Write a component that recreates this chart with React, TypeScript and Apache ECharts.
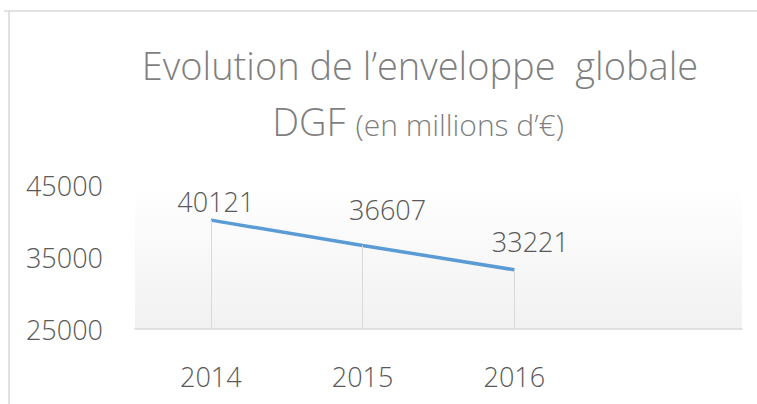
import React, { useEffect, useRef } from "react";
import * as echarts from "echarts";

const categories = ["2014", "2015", "2016", ""];
const values = [40121, 36607, 33221];
const yTickLabels = [25000, 35000, 45000];
const yMin = 25000;
const yMax = 45000;
const titleLine1 = "Evolution de l\u2019enveloppe  globale";
const titleDGF = "DGF";
const titleUnit = "(en millions d\u2019\u20ac)";

// label placement tweaks (styling only, in pixels)
const labelOffsets = [
  [5, 1],
  [25, -16],
  [16, -8],
];

const FONT = "'Open Sans', 'Noto Sans', sans-serif";

export default function App() {
  const ref = useRef<HTMLDivElement>(null);
  useEffect(() => {
    if (!ref.current) return;
    const chart = echarts.init(ref.current, null, { renderer: "svg" });
    chart.setOption({
      animation: false,
      backgroundColor: "#ffffff",
      textStyle: { fontFamily: FONT },
      graphic: [
        { type: "line", shape: { x1: 4, y1: 11, x2: 757, y2: 11 }, style: { stroke: "#d9d9d9", lineWidth: 1.5 }, silent: true },
        { type: "line", shape: { x1: 9, y1: 11, x2: 9, y2: 404 }, style: { stroke: "#d9d9d9", lineWidth: 1.5 }, silent: true },
        {
          type: "text",
          x: 420,
          y: 65,
          style: {
            text: titleLine1,
            fill: "#7f7f7f",
            font: `300 38px ${FONT}`,
            align: "center",
            verticalAlign: "middle",
          },
        },
        {
          type: "text",
          x: 418,
          y: 121,
          style: {
            text: `{a|${titleDGF}}{b|${titleUnit}}`,
            align: "center",
            verticalAlign: "middle",
            rich: {
              a: { fontFamily: FONT, fontWeight: 300, fontSize: 38, fill: "#7f7f7f", color: "#7f7f7f" },
              b: { fontFamily: FONT, fontWeight: 300, fontSize: 30, fill: "#7f7f7f", color: "#7f7f7f", padding: [6, 0, 0, 10] },
            },
          },
        },
      ],
      grid: {
        left: 135,
        right: 15,
        top: 185,
        bottom: 75,
        show: true,
        borderWidth: 0,
        backgroundColor: new echarts.graphic.LinearGradient(0, 0, 0, 1, [
          { offset: 0, color: "#ffffff" },
          { offset: 1, color: "#f1f1f1" },
        ]),
      },
      xAxis: {
        type: "category",
        data: categories,
        boundaryGap: true,
        axisLine: { lineStyle: { color: "#d9d9d9", width: 1.5 } },
        axisTick: { show: false },
        axisLabel: { color: "#595959", fontSize: 27, fontWeight: 300, fontFamily: FONT, margin: 34 },
        splitLine: { show: false },
      },
      yAxis: {
        type: "value",
        min: yMin,
        max: yMax,
        interval: 5000,
        axisLine: { show: false },
        axisTick: { show: false },
        splitLine: { show: false },
        axisLabel: {
          color: "#595959",
          fontSize: 27,
          fontWeight: 300,
          fontFamily: FONT,
          margin: 32,
          formatter: (v: number) => (yTickLabels.includes(v) ? String(v) : ""),
        },
      },
      series: [
        {
          type: "line",
          data: values,
          symbol: "circle",
          symbolSize: 1,
          showSymbol: true,
          itemStyle: { color: "rgba(91,155,213,0)", borderWidth: 0 },
          lineStyle: { color: "#5b9bd5", width: 3.5 },
          label: {
            show: true,
            position: "top",
            distance: 6,
            color: "#595959",
            fontSize: 27,
            fontWeight: 300,
            fontFamily: FONT,
          },
          labelLayout: (p: any) => {
            const o = labelOffsets[p.dataIndex] || [0, 0];
            return { dx: o[0], dy: o[1], hideOverlap: false };
          },
          markLine: {
            silent: true,
            symbol: ["none", "none"],
            label: { show: false },
            lineStyle: { color: "#d9d9d9", width: 1, type: "solid" },
            data: values.map((v, i) => [
              { coord: [categories[i], yMin] },
              { coord: [categories[i], v] },
            ]),
          },
        },
      ],
    });
    return () => chart.dispose();
  }, []);
  return (
    <div
      ref={ref}
      style={{ position: "absolute", left: 0, top: 0, width: 757, height: 404 }}
    />
  );
}
